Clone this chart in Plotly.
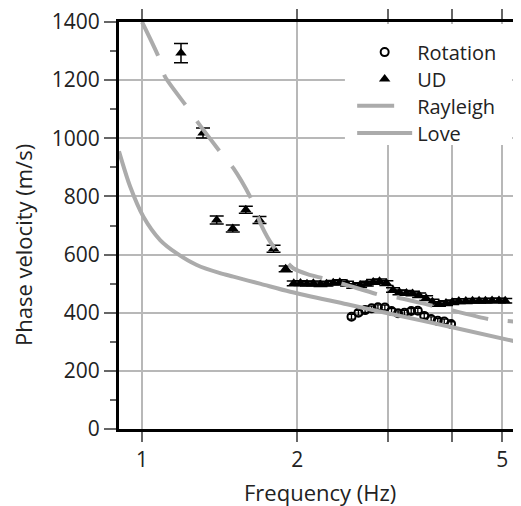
import plotly.graph_objects as go

# ---- data ----
ud_freq = [1.19, 1.313, 1.396, 1.50, 1.59, 1.69, 1.80, 1.90,
           1.97, 2.03, 2.09, 2.15, 2.22, 2.28, 2.35, 2.42, 2.50, 2.57, 2.65, 2.73,
           2.81, 2.89, 2.98, 3.07, 3.16, 3.26, 3.35, 3.45, 3.56, 3.66, 3.77, 3.89,
           4.00, 4.12, 4.25, 4.38, 4.51, 4.64, 4.78, 4.93, 5.07]
ud_vel = [1293, 1018, 719, 690, 754, 719, 620, 551,
          501, 502, 500, 501, 498, 500, 503, 505, 500, 492, 495, 500,
          506, 508, 502, 478, 470, 468, 466, 460, 450, 438, 430, 433,
          436, 440, 440, 441, 441, 441, 442, 442, 441]
ud_err = [33, 17, 14, 12, 12, 12, 12, 10,
          8, 8, 8, 8, 8, 8, 8, 8, 8, 8, 8, 8,
          8, 8, 8, 8, 8, 8, 8, 8, 8, 8, 8, 8,
          8, 8, 8, 8, 8, 8, 8, 8, 8]

rot_freq = [2.55, 2.63, 2.71, 2.79, 2.87, 2.96, 3.05, 3.14, 3.23, 3.33,
            3.43, 3.53, 3.64, 3.75, 3.86, 3.98]
rot_vel = [386, 400, 409, 415, 419, 418, 406, 398, 400, 406,
           407, 389, 378, 372, 370, 361]
rot_err = [8] * 16

ray_freq = [1.0, 1.076, 1.108, 1.221, 1.286, 1.417, 1.504, 1.633, 1.70, 1.80,
            1.965, 2.10, 2.25, 2.5, 2.9, 3.17, 3.6, 4.0, 4.74, 5.44]
ray_vel = [1400, 1281, 1212, 1109, 1052, 954, 897, 788, 705, 627,
           553, 532, 518, 495, 461, 450, 427, 408, 377, 368]

love_freq = [0.902, 0.948, 1.006, 1.084, 1.168, 1.277, 1.417, 1.504, 1.70,
             1.939, 2.5, 3.0, 4.0, 5.44]
love_vel = [955, 834, 730, 650, 604, 564, 536, 524, 499,
            472, 429, 398, 350, 297]

x_tickvals = [0.9, 1, 2, 3, 4, 5]
x_ticktext = ["", "1", "2", "", "", "5"]
y_tickvals = [0, 200, 400, 600, 800, 1000, 1200, 1400]
y_ticktext = ["0", "200", "400", "600", "800", "1000", "1200", "1400"]

FONT = "Open Sans"
GRID = "#b8b8b8"
CURVE = "#ababab"

fig = go.Figure()

fig.add_trace(go.Scatter(
    x=rot_freq, y=rot_vel, mode="markers", name="Rotation", legend="legend",
    marker=dict(symbol="circle-open", size=8, color="black", line=dict(width=2)),
    error_y=dict(type="data", array=rot_err, color="black", thickness=1.3, width=4),
))
fig.add_trace(go.Scatter(
    x=ud_freq, y=ud_vel, mode="markers", name="UD", legend="legend2",
    marker=dict(symbol="triangle-up", size=10, color="black"),
    error_y=dict(type="data", array=ud_err, color="black", thickness=1.5, width=7),
))
fig.add_trace(go.Scatter(
    x=ray_freq, y=ray_vel, mode="lines", name="Rayleigh", legend="legend3",
    line=dict(color=CURVE, width=4, dash="37px,20px", shape="spline", smoothing=0.6),
))
fig.add_trace(go.Scatter(
    x=love_freq, y=love_vel, mode="lines", name="Love", legend="legend4",
    line=dict(color=CURVE, width=4, shape="spline", smoothing=0.8),
))


def leg(ypos):
    return dict(x=0.58, y=ypos, xanchor="left", yanchor="middle",
                bgcolor="rgba(0,0,0,0)", borderwidth=0, font=dict(size=20),
                itemwidth=55)


# the page body has an 8px margin, so the figure is sized to end at the window edge
fig.update_layout(
    width=513, height=498,
    margin=dict(l=111, r=0, t=14, b=77),
    plot_bgcolor="white", paper_bgcolor="white",
    font=dict(family=FONT, size=21, color="#222"),
    showlegend=True,
    legend=leg(0.926),
    legend2=leg(0.860),
    legend3=leg(0.794),
    legend4=leg(0.727),
    xaxis=dict(
        type="log", range=[-0.0448, 0.7356],
        tickvals=x_tickvals, ticktext=x_ticktext,
        showgrid=True, gridcolor=GRID, gridwidth=1.5,
        showline=True, linecolor="black", linewidth=3, mirror="ticks",
        ticks="outside", ticklen=10, tickwidth=1.5, tickcolor="#666",
        zeroline=False,
    ),
    yaxis=dict(
        range=[0, 1400],
        tickmode="array", tickvals=y_tickvals, ticktext=y_ticktext,
        ticklabeloverflow="allow",
        showgrid=True, gridcolor=GRID, gridwidth=1.5,
        showline=True, linecolor="black", linewidth=3,
        ticks="outside", ticklen=12, tickwidth=1.5, tickcolor="#666",
        minor=dict(dtick=100, tick0=100, ticks="outside", ticklen=6, tickwidth=1.5,
                   tickcolor="#666", showgrid=False),
        zeroline=False,
    ),
    shapes=[
        # white panel behind the legend that hides the grid lines
        dict(type="rect", xref="paper", yref="paper",
             x0=0.562, x1=0.978, y0=0.698, y1=0.995,
             fillcolor="white", line=dict(width=0), layer="above"),
    ],
    annotations=[
        dict(text="Phase velocity (m/s)", xref="paper", yref="paper",
             x=-0.2388, y=0.452, textangle=-90, showarrow=False,
             xanchor="center", yanchor="middle", font=dict(size=22)),
        dict(text="Frequency (Hz)", xref="paper", yref="paper",
             x=0.5, y=-0.155, showarrow=False,
             xanchor="center", yanchor="middle", font=dict(size=22)),
    ],
)

fig.write_html("out.html")
